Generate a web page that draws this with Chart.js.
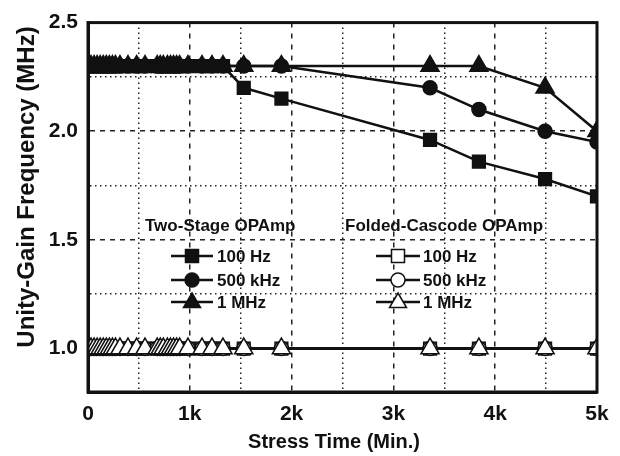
<!DOCTYPE html>
<html>
<head>
<meta charset="utf-8">
<script src="https://cdn.jsdelivr.net/npm/chart.js@4.4.1/dist/chart.umd.min.js"></script>
<style>
  body { margin: 0; background: #fff; }
  #wrap { width: 620px; height: 456px; }
</style>
</head>
<body>
<div id="wrap"><canvas id="chart" width="620" height="456"></canvas></div>
<script>
"use strict";

// stress times (min.), shared by every curve
const times = [0, 30, 60, 90, 120, 150, 180, 210, 240, 270, 314, 393, 478, 560,
    680, 710, 740, 780, 810, 840, 870, 900, 982, 1120, 1218, 1326,
    1530, 1900, 3360, 3840, 4490, 5000];

// Two-Stage OPAmp
const twoStage100Hz = [2.3, 2.3, 2.3, 2.3, 2.3, 2.3, 2.3, 2.3, 2.3, 2.3, 2.3, 2.3, 2.3, 2.3,
    2.3, 2.3, 2.3, 2.3, 2.3, 2.3, 2.3, 2.3, 2.3, 2.3, 2.3, 2.3,
    2.2, 2.15, 1.96, 1.86, 1.78, 1.70];
const twoStage500kHz = [2.3, 2.3, 2.3, 2.3, 2.3, 2.3, 2.3, 2.3, 2.3, 2.3, 2.3, 2.3, 2.3, 2.3,
    2.3, 2.3, 2.3, 2.3, 2.3, 2.3, 2.3, 2.3, 2.3, 2.3, 2.3, 2.3,
    2.3, 2.3, 2.2, 2.1, 2.0, 1.95];
const twoStage1MHz = [2.3, 2.3, 2.3, 2.3, 2.3, 2.3, 2.3, 2.3, 2.3, 2.3, 2.3, 2.3, 2.3, 2.3,
    2.3, 2.3, 2.3, 2.3, 2.3, 2.3, 2.3, 2.3, 2.3, 2.3, 2.3, 2.3,
    2.3, 2.3, 2.3, 2.3, 2.2, 2.0];

// Folded-Cascode OPAmp
const folded100Hz = [1.0, 1.0, 1.0, 1.0, 1.0, 1.0, 1.0, 1.0, 1.0, 1.0, 1.0, 1.0, 1.0, 1.0,
    1.0, 1.0, 1.0, 1.0, 1.0, 1.0, 1.0, 1.0, 1.0, 1.0, 1.0, 1.0,
    1.0, 1.0, 1.0, 1.0, 1.0, 1.0];
const folded500kHz = [1.0, 1.0, 1.0, 1.0, 1.0, 1.0, 1.0, 1.0, 1.0, 1.0, 1.0, 1.0, 1.0, 1.0,
    1.0, 1.0, 1.0, 1.0, 1.0, 1.0, 1.0, 1.0, 1.0, 1.0, 1.0, 1.0,
    1.0, 1.0, 1.0, 1.0, 1.0, 1.0];
const folded1MHz = [1.0, 1.0, 1.0, 1.0, 1.0, 1.0, 1.0, 1.0, 1.0, 1.0, 1.0, 1.0, 1.0, 1.0,
    1.0, 1.0, 1.0, 1.0, 1.0, 1.0, 1.0, 1.0, 1.0, 1.0, 1.0, 1.0,
    1.0, 1.0, 1.0, 1.0, 1.0, 1.0];

// ticks
const xTicks = [0, 500, 1000, 1500, 2000, 2500, 3000, 3500, 4000, 4500, 5000];
const xTickLabels = {0: "0", 1000: "1k", 2000: "2k", 3000: "3k", 4000: "4k", 5000: "5k"};
const yTicks = [1.0, 1.25, 1.5, 1.75, 2.0, 2.25, 2.5];
const yTickLabels = {"1": "1.0", "1.5": "1.5", "2": "2.0", "2.5": "2.5"};

const seriesNames = ["100 Hz", "500 kHz", "1 MHz"];
const groupNames = ["Two-Stage OPAmp", "Folded-Cascode OPAmp"];

const INK = "#111";
const FONT = "'Liberation Sans', Arial, sans-serif";

function points(vals) {
    return times.map(function (t, i) { return {x: t, y: vals[i]}; });
}

function series(label, vals, style, radius, filled, order) {
    return {
        label: label,
        data: points(vals),
        borderColor: INK,
        borderWidth: 2.5,
        pointStyle: style,
        pointRadius: radius,
        pointHoverRadius: radius,
        pointBorderWidth: 1.5,
        pointBorderColor: INK,
        pointBackgroundColor: filled ? INK : "#fff",
        tension: 0,
        clip: 0,
        order: order
    };
}

function isMajor(v, step) {
    return Math.abs(v / step - Math.round(v / step)) < 1e-6;
}

// box around the plot
const framePlugin = {
    id: "frame",
    afterDatasetsDraw(chart) {
        const a = chart.chartArea, ctx = chart.ctx;
        ctx.save();
        ctx.strokeStyle = INK;
        ctx.lineWidth = 3;
        ctx.strokeRect(a.left, a.top, a.right - a.left, a.bottom - a.top);
        ctx.restore();
    }
};

function drawMarker(ctx, style, x, y, filled) {
    ctx.save();
    ctx.fillStyle = filled ? INK : "#fff";
    ctx.strokeStyle = INK;
    ctx.lineWidth = 1.5;
    ctx.beginPath();
    if (style === "rect") {
        ctx.rect(x - 6.5, y - 6.5, 13, 13);
    } else if (style === "circle") {
        ctx.arc(x, y, 7, 0, Math.PI * 2);
    } else {
        ctx.moveTo(x, y - 9);
        ctx.lineTo(x + 8.5, y + 5.5);
        ctx.lineTo(x - 8.5, y + 5.5);
        ctx.closePath();
    }
    ctx.fill();
    ctx.stroke();
    ctx.restore();
}

// in-plot legend with two headed columns, plus the axis titles
const legendPlugin = {
    id: "groupLegend",
    afterDraw(chart) {
        const ctx = chart.ctx;
        const styles = ["rect", "circle", "triangle"];
        const rowsY = [256, 280, 302];
        const cols = [
            {head: 145, x1: 171, x2: 213, mark: 192, text: 217, filled: true},
            {head: 345, x1: 376, x2: 420, mark: 398, text: 423, filled: false}
        ];
        ctx.save();
        ctx.fillStyle = INK;
        ctx.textBaseline = "middle";
        ctx.textAlign = "left";
        ctx.font = "bold 17px " + FONT;
        cols.forEach(function (c, ci) {
            ctx.fillText(groupNames[ci], c.head, 226);
            rowsY.forEach(function (y, ri) {
                ctx.strokeStyle = INK;
                ctx.lineWidth = 2.5;
                ctx.beginPath();
                ctx.moveTo(c.x1, y);
                ctx.lineTo(c.x2, y);
                ctx.stroke();
                drawMarker(ctx, styles[ri], c.mark, y, c.filled);
                ctx.fillStyle = INK;
                ctx.fillText(seriesNames[ri], c.text, y + 1);
            });
        });

        ctx.textAlign = "center";
        ctx.font = "bold 20px " + FONT;
        ctx.fillText("Stress Time (Min.)", 334, 442);

        ctx.translate(27, 187);
        ctx.rotate(-Math.PI / 2);
        ctx.font = "bold 24px " + FONT;
        ctx.fillText("Unity-Gain Frequency (MHz)", 0, 0);
        ctx.restore();
    }
};

const ctx = document.getElementById("chart").getContext("2d");
const chart = new Chart(ctx, {
    type: "line",
    data: {
        datasets: [
            series("Two-Stage 100 Hz", twoStage100Hz, "rect", 9, true, 5),
            series("Two-Stage 500 kHz", twoStage500kHz, "circle", 7, true, 4),
            series("Two-Stage 1 MHz", twoStage1MHz, "triangle", 10.5, true, 3),
            series("Folded-Cascode 100 Hz", folded100Hz, "rect", 9, false, 2),
            series("Folded-Cascode 500 kHz", folded500kHz, "circle", 7, false, 1),
            series("Folded-Cascode 1 MHz", folded1MHz, "triangle", 10.5, false, 0)
        ]
    },
    options: {
        responsive: false,
        animation: false,
        events: [],
        layout: {padding: {top: 16, right: 23, bottom: 0, left: 0}},
        plugins: {
            legend: {display: false},
            tooltip: {enabled: false}
        },
        scales: {
            x: {
                type: "linear",
                min: 0,
                max: 5000,
                afterBuildTicks: function (scale) {
                    scale.ticks = xTicks.map(function (v) { return {value: v}; });
                },
                afterFit: function (scale) { scale.height = 64; },
                ticks: {
                    autoSkip: false,
                    maxRotation: 0,
                    padding: 10,
                    color: INK,
                    font: {family: FONT, size: 21, weight: "bold"},
                    callback: function (v) { return xTickLabels[v] || ""; }
                },
                grid: {
                    drawTicks: false,
                    lineWidth: 1.5,
                    color: "#222"
                },
                border: {
                    color: INK,
                    width: 3,
                    dash: function (c) {
                        if (!c.tick) return [];
                        return isMajor(c.tick.value, 1000) ? [5, 6] : [1.5, 3.5];
                    }
                }
            },
            y: {
                min: 0.8,
                max: 2.5,
                afterBuildTicks: function (scale) {
                    scale.ticks = yTicks.map(function (v) { return {value: v}; });
                },
                afterFit: function (scale) { scale.width = 88; },
                ticks: {
                    autoSkip: false,
                    padding: 10,
                    color: INK,
                    font: {family: FONT, size: 21, weight: "bold"},
                    callback: function (v) { return yTickLabels[String(v)] || ""; }
                },
                grid: {
                    drawTicks: false,
                    lineWidth: 1.5,
                    color: "#222"
                },
                border: {
                    color: INK,
                    width: 3,
                    dash: function (c) {
                        if (!c.tick) return [];
                        return isMajor(c.tick.value, 0.5) ? [5, 5] : [1.5, 3.5];
                    }
                }
            }
        }
    },
    plugins: [framePlugin, legendPlugin]
});
</script>
</body>
</html>
